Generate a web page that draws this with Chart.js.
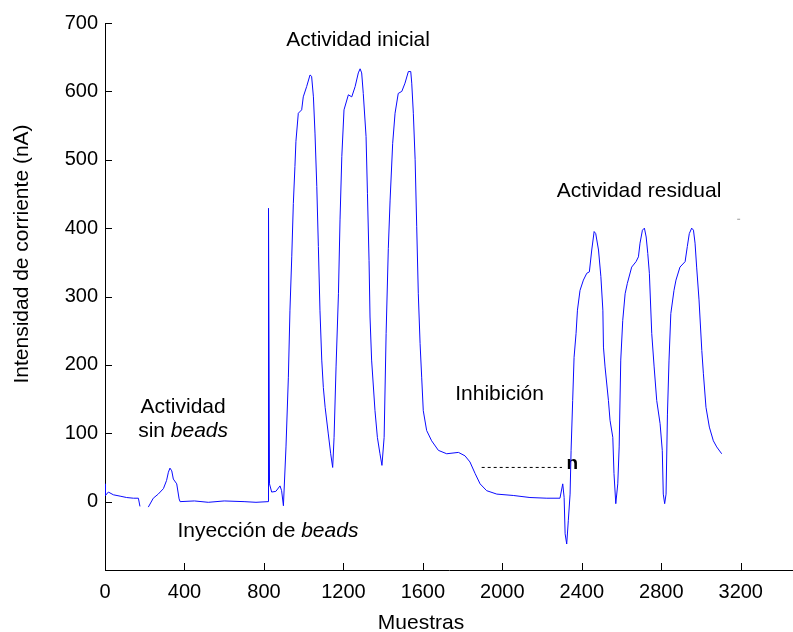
<!DOCTYPE html>
<html>
<head>
<meta charset="utf-8">
<script src="https://cdn.jsdelivr.net/npm/chart.js@4"></script>
<style>
html, body { margin: 0; padding: 0; background: #fff; }
#wrap { width: 793px; height: 632px; position: relative; }
</style>
</head>
<body>
<div id="wrap"><canvas id="chart"></canvas></div>
<script>
// sample index (x) and current in nA (y); null = gap in the record
const samples = [
    0, 2, 17, 42, 76, 109, 143, 168, 176, 197, 218, 243, 268, 294, 310, 319, 327, 336, 344, 361,
    373, 378, 450, 520, 600, 700, 760, 822, 823, 828, 839, 860, 881, 889, 898, 911, 923, 931, 940, 948,
    956, 961, 973, 990, 998, 1015, 1032, 1040, 1049, 1057, 1066, 1074, 1082, 1091, 1099, 1108, 1124, 1136, 1146, 1153,
    1163, 1175, 1183, 1192, 1203, 1225, 1242, 1259, 1275, 1284, 1292, 1300, 1314, 1321, 1329, 1334, 1342, 1359, 1371, 1384,
    1394, 1405, 1415, 1426, 1435, 1448, 1460, 1476, 1494, 1510, 1527, 1539, 1544, 1552, 1561, 1569, 1577, 1586, 1594, 1602,
    1619, 1644, 1678, 1720, 1779, 1812, 1837, 1863, 1888, 1921, 1972, 2055, 2139, 2224, 2290, 2304, 2311, 2316, 2324, 2332,
    2341, 2346, 2354, 2361, 2371, 2378, 2391, 2408, 2425, 2438, 2450, 2462, 2470, 2484, 2496, 2506, 2509, 2517, 2534, 2542,
    2556, 2562, 2571, 2581, 2588, 2596, 2606, 2618, 2629, 2651, 2673, 2685, 2693, 2705, 2715, 2724, 2732, 2740, 2752, 2764,
    2777, 2794, 2805, 2810, 2817, 2824, 2831, 2839, 2848, 2864, 2874, 2894, 2920, 2931, 2941, 2953, 2962, 2970, 2978, 2990,
    3004, 3012, 3025, 3042, 3062, 3079, 3104
];
const current = [
    26, 9, 14, 10, 8, 6, 5, 5, -7, null, -8, 5, 11, 19, 31, 43, 49, 45, 33, 26,
    4, 0, 1, -1, 1, 0, -1, 0, 429, 26, 14, 15, 23, 16, -6, 80, 182, 280, 358, 436,
    490, 527, 568, 573, 592, 607, 624, 622, 592, 539, 461, 373, 280, 207, 167, 138, 99, 70, 50, 94,
    197, 304, 412, 505, 573, 595, 592, 607, 627, 633, 627, 597, 534, 451, 353, 270, 207, 133, 94, 70,
    53, 94, 246, 370, 441, 524, 568, 597, 600, 612, 629, 629, 612, 568, 500, 402, 304, 231, 182, 133,
    104, 89, 75, 70, 72, 67, 58, 41, 26, 16, 11, 9, 6, 5, 5, 26, 6, -47, -62, -28,
    11, 75, 148, 211, 246, 280, 309, 324, 334, 336, 368, 395, 392, 368, 329, 280, 226, 197, 148, 119,
    94, 41, -3, 26, 80, 207, 265, 304, 319, 343, 351, 358, 378, 397, 400, 387, 363, 334, 246, 197,
    148, 114, 75, 11, -3, 11, 128, 207, 275, 309, 324, 343, 351, 373, 392, 400, 397, 378, 343, 295,
    221, 187, 138, 109, 89, 80, 70
];

// dotted inhibition level and the stray grey mark near the top right
const levelX = [1896, 2300];
const levelY = [50, 50];
const strayX = [3182, 3197];
const strayY = [413, 413];

const xTicks = [0, 400, 800, 1200, 1600, 2000, 2400, 2800, 3200];
const yTicks = [0, 100, 200, 300, 400, 500, 600, 700];

const FONT = '"Liberation Sans", Arial, sans-serif';

// text notes placed in data coordinates (x = centre, y = baseline)
const notes = [
    {parts: [['Actividad inicial', '']], x: 1274, y: 667},
    {parts: [['Actividad residual', '']], x: 2688, y: 446},
    {parts: [['Actividad', '']], x: 393, y: 129},
    {parts: [['sin ', ''], ['beads', 'italic ']], x: 393, y: 94},
    {parts: [['Inyección de ', ''], ['beads', 'italic ']], x: 820, y: -52},
    {parts: [['Inhibición', '']], x: 1986, y: 148},
    {parts: [['n', 'bold ']], x: 2352, y: 48, size: 19}
];

const toPoints = (xs, ys) => xs.map((x, i) => ({x, y: ys[i]}));

const decorations = {
    id: 'decorations',
    beforeDatasetsDraw(chart) {
        const {ctx, chartArea: area, scales: {x, y}} = chart;
        ctx.save();
        ctx.fillStyle = '#000';
        ctx.textBaseline = 'alphabetic';
        ctx.textAlign = 'left';

        for (const note of notes) {
            const size = note.size || 21;
            const widths = note.parts.map(([t, style]) => {
                ctx.font = `${style}${size}px ${FONT}`;
                return ctx.measureText(t).width;
            });
            const total = widths.reduce((a, b) => a + b, 0);
            let cx = x.getPixelForValue(note.x) - total / 2;
            const cy = y.getPixelForValue(note.y);
            note.parts.forEach(([t, style], i) => {
                ctx.font = `${style}${size}px ${FONT}`;
                ctx.fillText(t, cx, cy);
                cx += widths[i];
            });
        }

        // axis titles (not centred on the axes in the original)
        ctx.font = `21px ${FONT}`;
        ctx.textAlign = 'center';
        ctx.fillText('Muestras', area.left + 316, area.bottom + 59);

        ctx.translate(area.left - 77, area.top + 231);
        ctx.rotate(-Math.PI / 2);
        ctx.fillText('Intensidad de corriente (nA)', 0, 0);
        ctx.restore();
    },
    afterDraw(chart) {
        const {ctx, chartArea: area, scales: {x, y}} = chart;
        // inward tick marks
        ctx.save();
        ctx.strokeStyle = '#000';
        ctx.lineWidth = 1;
        ctx.beginPath();
        for (const v of xTicks) {
            const px = Math.round(x.getPixelForValue(v)) + 0.5;
            ctx.moveTo(px, area.bottom);
            ctx.lineTo(px, area.bottom - 7);
        }
        for (const v of yTicks) {
            const py = Math.round(y.getPixelForValue(v)) + 0.5;
            ctx.moveTo(area.left, py);
            ctx.lineTo(area.left + 7, py);
        }
        ctx.stroke();
        ctx.restore();
    }
};

const axisCommon = {
    type: 'linear',
    grid: {display: true, drawOnChartArea: false, drawTicks: false},
    border: {display: true, color: '#000', width: 1}
};

new Chart(document.getElementById('chart'), {
    type: 'line',
    data: {
        datasets: [
            {
                data: toPoints(samples, current),
                borderColor: 'rgb(10,10,255)',
                borderWidth: 1,
                spanGaps: false
            },
            {
                data: toPoints(levelX, levelY),
                borderColor: '#000',
                borderWidth: 1,
                borderDash: [3, 3]
            },
            {
                data: toPoints(strayX, strayY),
                borderColor: '#999',
                borderWidth: 1
            }
        ]
    },
    options: {
        responsive: true,
        maintainAspectRatio: false,
        animation: false,
        layout: {padding: {top: 23, right: 0, bottom: 0, left: 0}},
        plugins: {
            legend: {display: false},
            tooltip: {enabled: false}
        },
        elements: {
            point: {radius: 0},
            line: {tension: 0}
        },
        scales: {
            x: {
                ...axisCommon,
                min: 0,
                max: 3463,
                afterBuildTicks: s => { s.ticks = xTicks.map(v => ({value: v})); },
                afterFit: s => { s.height = 62; },
                ticks: {
                    color: '#000',
                    font: {family: FONT, size: 20},
                    padding: 10,
                    maxRotation: 0,
                    autoSkip: false,
                    callback: v => String(v)
                }
            },
            y: {
                ...axisCommon,
                min: -100,
                max: 700,
                afterBuildTicks: s => { s.ticks = yTicks.map(v => ({value: v})); },
                afterFit: s => { s.width = 105; },
                ticks: {
                    color: '#000',
                    font: {family: FONT, size: 20},
                    padding: 7,
                    autoSkip: false,
                    callback: v => String(v)
                }
            }
        }
    },
    plugins: [decorations]
});
</script>
</body>
</html>
